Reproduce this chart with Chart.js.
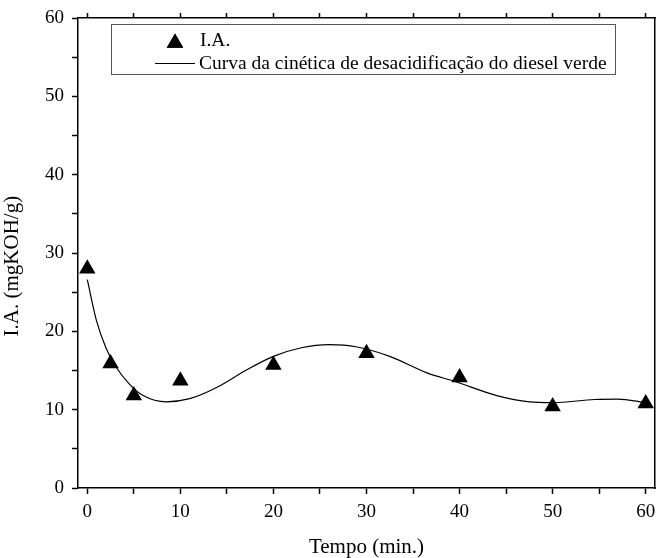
<!DOCTYPE html>
<html>
<head>
<meta charset="utf-8">
<script src="https://cdn.jsdelivr.net/npm/chart.js@4/dist/chart.umd.min.js"></script>
<style>
  html, body { margin: 0; padding: 0; background: #fff; }
  #wrap { width: 657px; height: 558px; position: relative; }
</style>
</head>
<body>
<div id="wrap"><canvas id="chart"></canvas></div>
<script>
// Data
const tempo = [0, 2.5, 5, 10, 20, 30, 40, 50, 60];
const ia = [28.0, 15.9, 11.8, 13.7, 15.7, 17.2, 14.1, 10.4, 10.8];

// fitted curve, sampled by eye along the drawn line
const curva_x = [0, 1, 2, 3, 4.5, 6, 8.5, 11, 14, 17, 20, 23, 26, 29, 32.5, 36.5, 39.5, 44, 47.5, 50, 54.5, 57, 60];
const curva_y = [26.6, 21.3, 17.9, 15.6, 13.3, 11.8, 11.0, 11.4, 12.9, 15.0, 16.8, 17.9, 18.3, 18.0, 16.8, 14.7, 13.6, 11.8, 11.0, 10.9, 11.3, 11.35, 10.9];

const label_pontos = 'I.A.';
const label_curva = 'Curva da cinética de desacidificação do diesel verde';
const x_title = 'Tempo (min.)';
const y_title = 'I.A. (mgKOH/g)';

const serif = "'Liberation Serif', 'Times New Roman', serif";
const fg_color = '#000';

Chart.defaults.font.family = serif;
Chart.defaults.color = fg_color;

// Boxed legend inside the plot, like the original
const boxLegend = {
    id: 'boxLegend',
    afterDraw(chart) {
        const ctx = chart.ctx;
        const ds = chart.data.datasets;
        ctx.save();
        ctx.strokeStyle = '#555';
        ctx.lineWidth = 1;
        ctx.strokeRect(111.5, 24.5, 504, 50);
        ctx.font = '19.5px ' + serif;
        ctx.fillStyle = fg_color;
        ctx.textBaseline = 'middle';
        // triangle marker
        Chart.helpers.drawPoint(ctx, { pointStyle: 'triangle', radius: 9.5, rotation: 0 }, 175, 43);
        ctx.fill();
        ctx.fillText(ds[0].label, 200, 41);
        // line sample
        ctx.beginPath();
        ctx.moveTo(155, 63.5);
        ctx.lineTo(195, 63.5);
        ctx.strokeStyle = fg_color;
        ctx.lineWidth = 1;
        ctx.stroke();
        ctx.fillText(ds[1].label, 199, 64);
        ctx.restore();
    }
};

const tick_font = { family: serif, size: 19 };
const title_font = { family: serif, size: 21 };
const only_tens = v => (v % 10 === 0 ? v : '');

const chart_canvas = document.getElementById('chart');
let chart = new Chart(chart_canvas, {
    type: 'scatter',
    data: {
        datasets: [
            {
                label: label_pontos,
                data: tempo.map((t, i) => ({ x: t, y: ia[i] })),
                pointStyle: 'triangle',
                pointRadius: 9.5,
                pointHoverRadius: 9.5,
                backgroundColor: fg_color,
                borderColor: fg_color,
                borderWidth: 0,
                showLine: false,
                clip: false,
            },
            {
                label: label_curva,
                data: curva_x.map((t, i) => ({ x: t, y: curva_y[i] })),
                showLine: true,
                pointRadius: 0,
                borderColor: fg_color,
                borderWidth: 1.2,
                cubicInterpolationMode: 'monotone',
                fill: false,
            },
        ],
    },
    options: {
        animation: false,
        responsive: true,
        maintainAspectRatio: false,
        layout: { padding: 0, autoPadding: false },
        plugins: {
            legend: { display: false },
            title: { display: false },
            tooltip: { enabled: false },
        },
        scales: {
            x: {
                type: 'linear',
                position: 'bottom',
                min: -1,
                max: 61,
                border: { color: fg_color, width: 1.5 },
                grid: { drawOnChartArea: false, tickLength: 6, tickColor: fg_color, tickWidth: 1.5 },
                ticks: { stepSize: 5, includeBounds: false, autoSkip: false, maxRotation: 0, padding: 7, font: tick_font, color: fg_color, callback: only_tens },
                title: { display: true, text: x_title, font: title_font, color: fg_color, padding: { top: 0, bottom: -2 } },
                // the "60" label may run off the edge, as in the original
                afterFit: s => { s.height = 70; s.paddingLeft = 0; s.paddingRight = 0; },
            },
            x2: {
                type: 'linear',
                position: 'top',
                min: -1,
                max: 61,
                border: { color: fg_color, width: 1.5 },
                grid: { drawOnChartArea: false, tickLength: 5, tickColor: fg_color, tickWidth: 1.5 },
                ticks: { stepSize: 5, includeBounds: false, autoSkip: false, display: false },
                afterFit: s => { s.height = 18; s.paddingLeft = 0; s.paddingRight = 0; },
            },
            y: {
                type: 'linear',
                position: 'left',
                min: 0,
                max: 60,
                border: { color: fg_color, width: 1.5 },
                grid: { drawOnChartArea: false, tickLength: 6, tickColor: fg_color, tickWidth: 1.5 },
                ticks: { stepSize: 5, includeBounds: false, autoSkip: false, padding: 8, font: tick_font, color: fg_color, callback: only_tens },
                // trailing spaces push the title a little below the middle, as in the original
                title: { display: true, text: y_title + '\u00a0\u00a0\u00a0\u00a0\u00a0', font: title_font, color: fg_color, padding: { top: 0, bottom: 0 } },
                afterFit: s => { s.width = 78; s.paddingTop = 0; s.paddingBottom = 0; },
            },
            y2: {
                type: 'linear',
                position: 'right',
                min: 0,
                max: 60,
                border: { color: fg_color, width: 1.5 },
                grid: { drawOnChartArea: false, drawTicks: false },
                ticks: { display: false },
                afterFit: s => { s.width = 2; s.paddingTop = 0; s.paddingBottom = 0; },
            },
        },
    },
    plugins: [boxLegend],
});
</script>
</body>
</html>
